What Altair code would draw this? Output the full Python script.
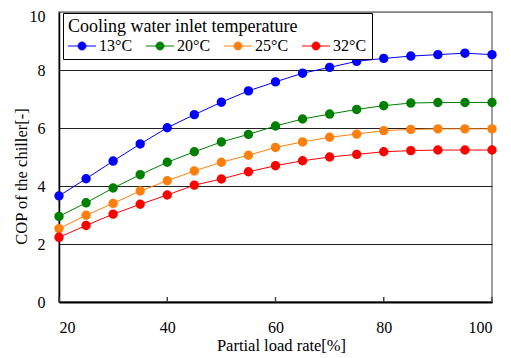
import altair as alt
import pandas as pd

load = [20, 25, 30, 35, 40, 45, 50, 55, 60, 65, 70, 75, 80, 85, 90, 95, 100]
cop_13 = [3.66, 4.25, 4.86, 5.45, 6.01, 6.46, 6.89, 7.28, 7.59, 7.89, 8.09, 8.30, 8.40, 8.48, 8.53, 8.58, 8.53]
cop_20 = [2.95, 3.42, 3.93, 4.39, 4.82, 5.18, 5.52, 5.78, 6.07, 6.31, 6.48, 6.64, 6.77, 6.86, 6.88, 6.88, 6.88]
cop_25 = [2.53, 2.99, 3.40, 3.83, 4.18, 4.52, 4.82, 5.06, 5.33, 5.52, 5.68, 5.79, 5.91, 5.95, 5.97, 5.97, 5.97]
cop_32 = [2.23, 2.64, 3.03, 3.37, 3.69, 4.03, 4.24, 4.49, 4.70, 4.87, 5.00, 5.09, 5.18, 5.22, 5.24, 5.24, 5.24]
series = ["13°C", "20°C", "25°C", "32°C"]
colors = ["#0000FF", "#008000", "#FF7F0E", "#FF0000"]
x_ticks = [20, 40, 60, 80, 100]
y_ticks = [0, 2, 4, 6, 8, 10]

rows = []
for name, vals in zip(series, [cop_13, cop_20, cop_25, cop_32]):
    for x, v in zip(load, vals):
        rows.append({"load": x, "cop": v, "temp": name})
df = pd.DataFrame(rows)
tick_df = pd.DataFrame({"load": x_ticks, "cop": [0] * len(x_ticks), "cop2": [0.17] * len(x_ticks)})

FONT = "Liberation Serif"
scale = alt.Scale(domain=series, range=colors)
x_scale = alt.Scale(domain=[20, 100], nice=False, zero=False)
y_scale = alt.Scale(domain=[0, 10], nice=False)

x_enc = alt.X("load:Q", scale=x_scale,
              axis=alt.Axis(values=x_ticks, title="Partial load rate[%]", grid=False,
                            ticks=False, labelPadding=17, domainColor="black", domainWidth=2,
                            titleX=222, titleY=35, titleBaseline="top"))
y_enc = alt.Y("cop:Q", scale=y_scale,
              axis=alt.Axis(values=y_ticks, title="COP of the chiller[-]", ticks=False,
                            labelPadding=14, domainColor="black", domainWidth=1.5,
                            labelOffset=alt.condition("datum.value == 10", alt.value(4), alt.value(0)),
                            gridColor=alt.condition("datum.value == 10", alt.value("#808080"), alt.value("#222222")),
                            gridWidth=1,
                            titleX=-37.5, titleY=164, titleAlign="center", titleBaseline="middle"))

legend = alt.Legend(title="Cooling water inlet temperature", orient="none", legendX=4, legendY=1,
                    direction="horizontal", columns=4,
                    symbolType="M-2,0L2,0M-0.57,0A0.57,0.57,0,1,1,0.57,0A0.57,0.57,0,1,1,-0.57,0Z",
                    symbolSize=196, symbolStrokeWidth=1, symbolOffset=6, labelOffset=9,
                    columnPadding=11, rowPadding=0,
                    strokeColor="black", fillColor="white", padding=5, titlePadding=2,
                    titleLimit=400, labelLimit=100)

lines = alt.Chart(df).mark_line(strokeWidth=1).encode(
    x=x_enc, y=y_enc,
    stroke=alt.Stroke("temp:N", scale=scale, legend=legend, sort=series),
)
points = alt.Chart(df).mark_point(filled=True, size=55, opacity=1).encode(
    x=x_enc, y=y_enc,
    fill=alt.Fill("temp:N", scale=scale, legend=legend, sort=series),
    stroke=alt.Stroke("temp:N", scale=scale, legend=legend, sort=series),
)
ticks = alt.Chart(tick_df).mark_rule(color="#444444", strokeWidth=1.5).encode(
    x=x_enc, y=y_enc, y2="cop2:Q",
)

chart = alt.layer(ticks, lines, points).properties(
    width=433, height=290,
    autosize=alt.AutoSizeParams(type="none"),
    padding={"left": 51, "top": 4, "right": 11, "bottom": 56},
).configure(
    background="white", font=FONT
).configure_view(
    stroke="#808080", strokeWidth=1.5
).configure_axis(
    labelFont=FONT, titleFont=FONT, labelFontSize=16, titleFontSize=16.5,
    titleFontWeight="normal", labelColor="black", titleColor="black",
).configure_legend(
    labelFont=FONT, titleFont=FONT, labelFontSize=16, titleFontSize=18,
    titleFontWeight="normal", labelColor="black", titleColor="black",
)

chart.save("out.html", embed_options={"renderer": "svg", "actions": False})
